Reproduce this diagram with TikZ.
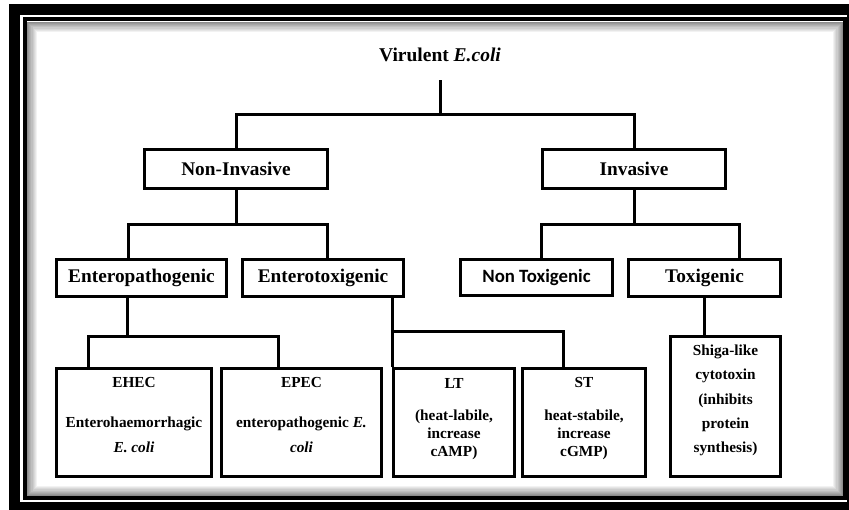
\documentclass[tikz,border=0pt]{standalone}
\usepackage{fontspec}
\setmainfont{Liberation Serif}
\newfontfamily\carl{Carlito}
\begin{document}
\begin{tikzpicture}[x=1pt,y=-1pt,
  box/.style={draw,line width=3pt,fill=white,align=center,inner sep=0pt,
    font=\bfseries\fontsize{19.3}{22}\selectfont},
  leafbox/.style={draw,line width=3pt,fill=white,inner sep=0pt},
  leaftxt/.style={align=center,inner sep=0pt,font=\bfseries\fontsize{15.3}{18}\selectfont},
  conn/.style={line width=3pt}]
\useasboundingbox (0,0) rectangle (849,510);
% frame
\fill[black] (9,4) rectangle (849,510);
\fill[white] (20,15.5) rectangle (847,501.5);
\draw[line width=4pt] (25,19.5) rectangle (845,497.5);
\foreach \i [evaluate=\i as \c using {int(45-5*\i)}, evaluate=\i as \o using {1.1*\i+0.55}] in {0,...,8}{
  \draw[line width=1.1pt, black!\c] (27+\o,22+\o) rectangle (843-\o,496-\o);
}
% helpers
\coordinate (h1) at (0,225);
\coordinate (h2) at (0,337);
\coordinate (h3) at (0,332);
% title
\node[inner sep=0pt, minimum height=50pt, font=\bfseries\fontsize{19.5}{22}\selectfont] (title) at (440,55) {Virulent \textit{E.coli}};
\coordinate (j0) at (440,115);
% level 1
\node[box, minimum width=183pt, minimum height=39pt] (noninv) at (236,169) {Non-Invasive};
\node[box, minimum width=183pt, minimum height=39pt] (inv) at (634,169) {Invasive};
% level 2
\node[box, minimum width=170pt, minimum height=37pt] (epath) at (141.5,278) {Enteropathogenic};
\node[box, minimum width=161pt, minimum height=37pt] (etox) at (323,278) {Enterotoxigenic};
\node[box, minimum width=152pt, minimum height=36pt, font=\carl\bfseries\fontsize{18.8}{22}\selectfont] (nontox) at (536.5,277.5) {Non Toxigenic};
\node[box, minimum width=152pt, minimum height=37pt] (tox) at (704.5,278) {Toxigenic};
% level 3
\node[leafbox, minimum width=155pt, minimum height=108pt] (ehec) at (134,422.5) {};
\node[leafbox, minimum width=160pt, minimum height=108pt] (epec) at (301.5,422.5) {};
\node[leafbox, minimum width=121pt, minimum height=108pt] (lt) at (454,422.5) {};
\node[leafbox, minimum width=123pt, minimum height=108pt] (st) at (584,422.5) {};
\node[leafbox, minimum width=110pt, minimum height=140pt] (shiga) at (725.5,406.5) {};
% leaf texts
\node[leaftxt] (ehect) at (134,383) {EHEC};
\node[leaftxt, font=\bfseries\fontsize{15.3}{25}\selectfont] (ehecb) at (134,434.5) {Enterohaemorrhagic\\\textit{E. coli}};
\node[leaftxt] (epect) at (301.5,383) {EPEC};
\node[leaftxt, font=\bfseries\fontsize{15.3}{25}\selectfont] (epecb) at (301.5,434.5) {enteropathogenic \textit{E.}\\\textit{coli}};
\node[leaftxt] (ltt) at (454,383) {LT};
\node[leaftxt] (ltb) at (454,435) {(heat-labile,\\increase\\cAMP)};
\node[leaftxt] (stt) at (584,383) {ST};
\node[leaftxt] (stb) at (584,435) {heat-stabile,\\increase\\cGMP)};
\node[leaftxt, font=\bfseries\fontsize{15.3}{24.3}\selectfont] (shigab) at (725.5,400.5) {Shiga-like\\cytotoxin\\(inhibits\\protein\\synthesis)};
% connectors
\draw[conn] (title.south) -- (j0);
\draw[conn] (noninv.north) |- (j0) -| (inv.north);
\draw[conn] (noninv.south) -- (noninv.south |- h1);
\draw[conn] ([xshift=-13.5pt]epath.north) |- (noninv.south |- h1) -| ([xshift=4pt]etox.north);
\draw[conn] (inv.south) -- (inv.south |- h1);
\draw[conn] ([xshift=4.5pt]nontox.north) |- (inv.south |- h1) -| ([xshift=34.5pt]tox.north);
\draw[conn] ([xshift=-14.5pt]epath.south) -- ([xshift=-14.5pt]epath.south |- h2);
\draw[conn] ([xshift=-46pt]ehec.north) |- ([xshift=-14.5pt]epath.south |- h2) -| ([xshift=-23.5pt]epec.north);
\draw[conn] (lt.north west |- etox.south) -- (lt.north west);
\draw[conn] (lt.north west |- h3) -| ([xshift=-21pt]st.north);
\draw[conn] (tox.south) -- (tox.south |- shiga.north);
\end{tikzpicture}
\end{document}
